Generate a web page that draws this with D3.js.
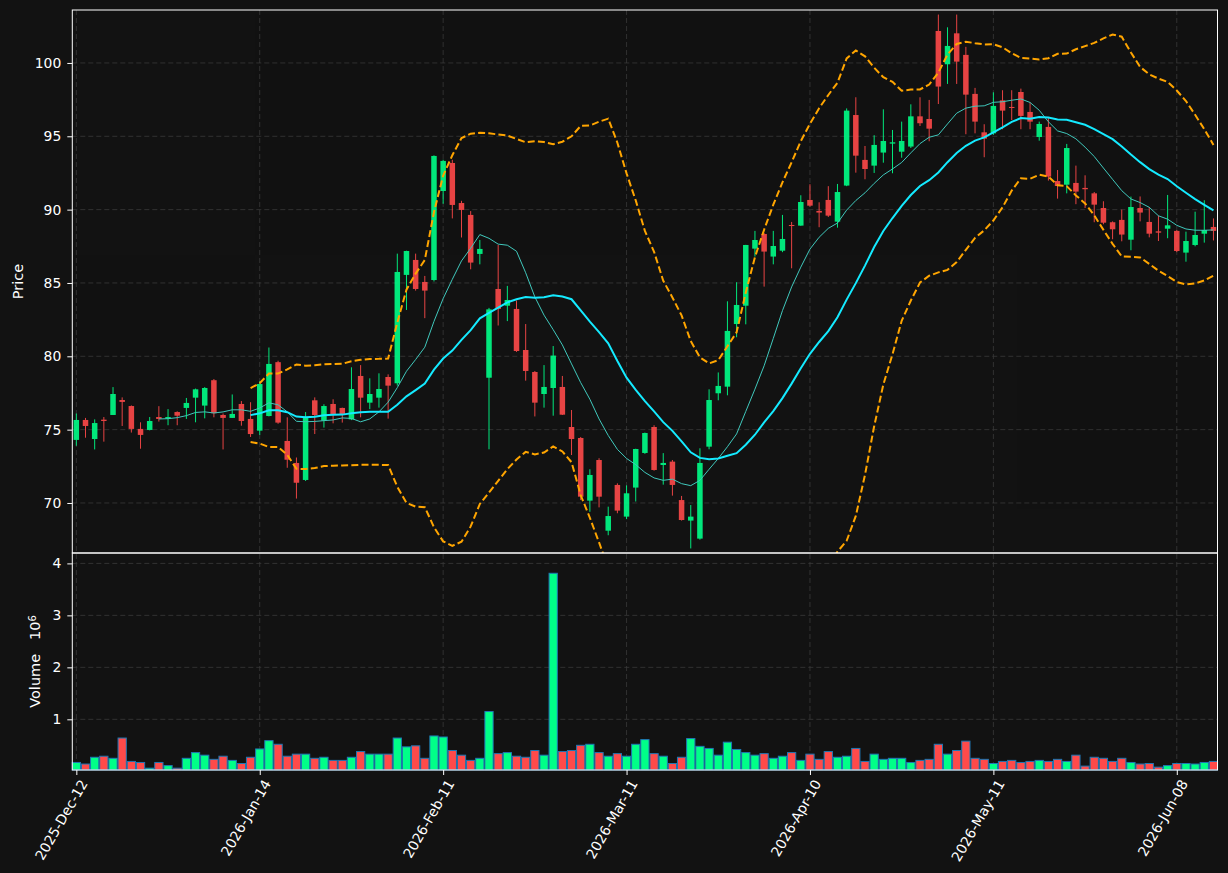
<!DOCTYPE html>
<html lang="en">
  <head>
    <meta charset="UTF-8" />
    <title>Price and Volume</title>
    <style>
      body { margin: 0; background: #121212; }
      text { font-family: "DejaVu Sans", sans-serif; }
    </style>
  </head>

  <body>
    <div id="chart"></div>

    <script src="https://cdn.jsdelivr.net/npm/d3@7"></script>
    <script>

      // tick labels on the date axis (one every 20 sessions)
      var tickIndex = [0, 20, 40, 60, 80, 100, 120];
      var tickLabels = ["2025-Dec-12", "2026-Jan-14", "2026-Feb-11", "2026-Mar-11",
                        "2026-Apr-10", "2026-May-11", "2026-Jun-08"];

      var opens = [74.30, 75.66, 74.36, 75.68, 76.00, 77.02, 76.61, 75.05, 74.98, 75.86,
                   75.75, 76.20, 76.48, 77.18, 76.64, 78.37, 76.00, 75.80, 76.75, 75.73,
                   74.93, 75.93, 79.60, 74.23, 72.73, 71.57, 77.00, 75.61, 76.75, 76.48,
                   75.70, 78.66, 76.84, 77.18, 78.59, 78.16, 85.55, 86.57, 85.07, 85.20,
                   91.27, 93.18, 90.45, 89.64, 86.98, 78.54, 84.59, 83.45, 83.23, 80.43,
                   78.93, 77.43, 77.84, 77.91, 75.18, 74.43, 70.16, 72.93, 68.11, 71.23,
                   69.07, 71.05, 73.41, 75.18, 72.59, 72.82, 70.20, 68.80, 67.57, 73.84,
                   77.48, 77.93, 82.20, 83.45, 87.34, 88.34, 86.80, 87.20, 88.95, 88.91,
                   90.66, 89.91, 90.66, 89.18, 91.64, 96.45, 93.39, 93.00, 93.89, 94.50,
                   93.95, 94.30, 96.36, 96.18, 102.18, 99.91, 102.02, 100.55, 97.89, 95.27,
                   95.20, 97.45, 97.00, 98.02, 96.66, 94.95, 95.64, 91.95, 91.70, 91.82,
                   91.48, 91.11, 90.11, 89.14, 89.30, 87.95, 90.11, 89.16, 88.52, 88.70,
                   88.55, 87.07, 87.59, 88.36, 88.82];
      var highs = [76.10, 75.80, 75.70, 75.86, 77.90, 77.20, 76.65, 75.50, 75.86, 76.60,
                   76.40, 76.25, 77.16, 77.80, 77.90, 78.45, 76.10, 77.40, 76.95, 76.87,
                   78.30, 80.60, 79.70, 75.84, 73.10, 76.20, 77.20, 76.73, 77.07, 76.50,
                   79.25, 79.40, 78.50, 78.84, 78.77, 87.00, 87.20, 87.00, 85.48, 93.70,
                   93.40, 93.40, 90.60, 89.90, 87.93, 83.30, 87.60, 84.80, 83.80, 82.20,
                   79.00, 79.40, 80.70, 78.66, 76.34, 74.50, 72.30, 73.05, 69.75, 71.34,
                   71.20, 73.70, 74.80, 75.30, 73.40, 72.93, 70.48, 69.86, 73.73, 77.75,
                   78.90, 83.75, 85.05, 87.60, 88.55, 88.40, 88.55, 89.64, 89.16, 90.98,
                   91.73, 90.50, 91.60, 91.75, 96.90, 97.66, 94.34, 95.07, 96.84, 95.43,
                   96.00, 97.18, 97.66, 97.48, 103.30, 102.43, 103.30, 101.10, 98.30, 95.82,
                   98.00, 98.14, 98.14, 98.25, 97.30, 96.00, 96.30, 92.70, 94.48, 93.00,
                   92.34, 91.20, 90.57, 89.20, 90.00, 90.89, 90.90, 90.18, 89.60, 91.00,
                   88.60, 88.50, 89.86, 90.64, 89.40];
      var lows = [73.90, 74.45, 73.65, 74.18, 76.00, 75.25, 74.80, 73.70, 74.95, 75.55,
                  75.30, 75.30, 75.73, 75.50, 75.77, 75.84, 73.65, 75.80, 75.27, 74.50,
                  74.64, 75.90, 75.40, 72.40, 70.30, 71.50, 74.70, 75.14, 75.43, 75.48,
                  75.65, 75.84, 76.40, 76.50, 75.75, 78.00, 83.16, 84.48, 82.60, 85.10,
                  90.40, 89.40, 88.10, 85.93, 86.27, 73.66, 82.10, 82.40, 80.30, 78.34,
                  75.90, 76.50, 75.95, 76.00, 73.27, 70.20, 69.40, 69.70, 67.80, 69.30,
                  68.90, 70.10, 73.35, 72.20, 71.25, 70.50, 68.80, 66.90, 67.50, 73.66,
                  77.00, 77.34, 81.30, 82.18, 86.80, 84.75, 86.27, 87.10, 86.00, 88.90,
                  90.20, 88.80, 89.50, 88.77, 91.60, 92.52, 92.07, 92.50, 93.20, 92.48,
                  93.54, 94.20, 95.70, 94.66, 97.20, 98.57, 98.57, 95.14, 95.20, 93.57,
                  95.10, 95.48, 96.11, 95.48, 95.48, 94.70, 91.98, 90.75, 91.11, 90.37,
                  90.11, 89.14, 89.00, 87.98, 87.84, 87.23, 89.20, 88.11, 87.86, 88.05,
                  87.10, 86.45, 87.50, 87.75, 87.90];
      var closes = [75.66, 75.25, 75.45, 75.59, 77.43, 76.89, 75.05, 74.64, 75.59, 75.73,
                    75.86, 75.95, 76.82, 77.75, 77.84, 76.12, 75.80, 76.07, 75.59, 74.70,
                    78.11, 79.48, 75.48, 72.95, 71.38, 75.84, 76.00, 76.61, 76.07, 76.07,
                    77.77, 77.18, 77.43, 77.77, 78.00, 85.75, 87.18, 84.59, 84.48, 93.66,
                    93.32, 90.32, 89.98, 86.39, 87.32, 83.20, 83.23, 83.84, 80.36, 79.00,
                    76.84, 77.91, 80.05, 76.02, 74.36, 70.43, 71.91, 70.43, 69.11, 69.48,
                    70.66, 73.68, 74.77, 72.25, 72.73, 71.23, 68.84, 69.07, 72.73, 77.02,
                    77.98, 81.73, 83.50, 87.59, 87.93, 87.14, 87.52, 88.00, 88.89, 90.52,
                    90.27, 89.80, 89.59, 91.20, 96.75, 93.68, 92.77, 94.41, 94.68, 94.59,
                    94.68, 96.36, 95.89, 95.52, 98.39, 101.16, 100.09, 97.84, 96.00, 94.84,
                    97.07, 96.75, 96.93, 96.39, 96.00, 95.84, 92.25, 91.61, 94.20, 91.23,
                    91.39, 90.34, 89.11, 88.66, 88.30, 90.18, 89.80, 88.36, 88.43, 88.93,
                    87.18, 87.86, 88.27, 88.61, 88.55];
      // volume in millions
      var volumes = [0.17, 0.14, 0.27, 0.29, 0.25, 0.64, 0.19, 0.17, 0.06, 0.17,
                     0.11, 0.06, 0.25, 0.36, 0.31, 0.23, 0.29, 0.21, 0.15, 0.27,
                     0.43, 0.59, 0.52, 0.29, 0.33, 0.33, 0.25, 0.27, 0.21, 0.21,
                     0.27, 0.38, 0.33, 0.33, 0.33, 0.64, 0.47, 0.49, 0.25, 0.68,
                     0.66, 0.40, 0.31, 0.21, 0.25, 1.15, 0.34, 0.36, 0.29, 0.27,
                     0.40, 0.31, 3.81, 0.38, 0.40, 0.50, 0.52, 0.36, 0.29, 0.34,
                     0.29, 0.52, 0.61, 0.34, 0.29, 0.15, 0.27, 0.63, 0.48, 0.44,
                     0.31, 0.56, 0.42, 0.36, 0.31, 0.34, 0.25, 0.29, 0.36, 0.21,
                     0.33, 0.23, 0.38, 0.27, 0.29, 0.44, 0.19, 0.33, 0.23, 0.25,
                     0.25, 0.17, 0.21, 0.23, 0.52, 0.33, 0.40, 0.58, 0.25, 0.23,
                     0.15, 0.19, 0.21, 0.17, 0.19, 0.21, 0.19, 0.23, 0.19, 0.31,
                     0.10, 0.27, 0.25, 0.19, 0.25, 0.17, 0.14, 0.15, 0.08, 0.11,
                     0.15, 0.15, 0.14, 0.17, 0.19];

      var priceTicks = [70, 75, 80, 85, 90, 95, 100];
      var volumeTicks = [1, 2, 3, 4];

      var upColor = "#00ff88",
          downColor = "#ff4a4a";

      var W = 1228, H = 873;
      var left = 72.3, right = 1217.5;
      var priceTop = 10, priceBottom = 553, volBottom = 770;

      var n = closes.length;
      var data = d3.range(n).map(function(i) {
        return { i: i, o: opens[i], h: highs[i], l: lows[i], c: closes[i], v: volumes[i] };
      });

      // indicator lines of the chart: 10 and 20 period moving average of the close,
      // and a 20 period band of +/- 2 standard deviations
      function rolling(arr, len, fn) {
        return arr.map(function(d, i) {
          if (i < len - 1) return null;
          return fn(arr.slice(i - len + 1, i + 1));
        });
      }
      var ma10 = rolling(closes, 10, d3.mean);
      var ma20 = rolling(closes, 20, d3.mean);
      var sd20 = rolling(closes, 20, d3.deviation);
      var upper = ma20.map(function(m, i) { return m === null ? null : m + 2 * sd20[i]; });
      var lower = ma20.map(function(m, i) { return m === null ? null : m - 2 * sd20[i]; });

      var svg = d3.select("#chart").append("svg")
                  .attr("width", W)
                  .attr("height", H);
      svg.append("rect")
         .attr("width", W)
         .attr("height", H)
         .attr("fill", "#121212");

      var xScale = d3.scaleLinear()
                     .domain([-0.44, n - 1 + 0.44])
                     .range([left, right]);
      var yScale = d3.scaleLinear()
                     .domain([66.59, 103.61])
                     .range([priceBottom, priceTop]);
      var vScale = d3.scaleLinear()
                     .domain([0.025, 4.2])
                     .range([volBottom, priceBottom]);

      var step = xScale(1) - xScale(0);

      svg.append("clipPath")
         .attr("id", "priceClip")
         .append("rect")
         .attr("x", left)
         .attr("y", priceTop)
         .attr("width", right - left)
         .attr("height", priceBottom - priceTop);

      // grid
      var grid = svg.append("g")
                    .attr("stroke", "#3a3a3a")
                    .attr("stroke-width", 0.8)
                    .attr("stroke-dasharray", "5,3");
      grid.selectAll(".vgrid")
          .data(tickIndex)
          .enter()
          .append("line")
          .attr("x1", function(d) { return xScale(d); })
          .attr("x2", function(d) { return xScale(d); })
          .attr("y1", priceTop)
          .attr("y2", volBottom);
      grid.selectAll(".pgrid")
          .data(priceTicks)
          .enter()
          .append("line")
          .attr("x1", left)
          .attr("x2", right)
          .attr("y1", function(d) { return yScale(d); })
          .attr("y2", function(d) { return yScale(d); });
      grid.selectAll(".vgrid2")
          .data(volumeTicks)
          .enter()
          .append("line")
          .attr("x1", left)
          .attr("x2", right)
          .attr("y1", function(d) { return vScale(d); })
          .attr("y2", function(d) { return vScale(d); });

      // candles
      var candles = svg.append("g")
                       .attr("clip-path", "url(#priceClip)")
                       .attr("opacity", 0.9);
      candles.selectAll(".wick")
             .data(data)
             .enter()
             .append("line")
             .attr("x1", function(d) { return xScale(d.i); })
             .attr("x2", function(d) { return xScale(d.i); })
             .attr("y1", function(d) { return yScale(d.h); })
             .attr("y2", function(d) { return yScale(d.l); })
             .attr("stroke", function(d) { return d.c >= d.o ? upColor : downColor; })
             .attr("stroke-width", 1);
      candles.selectAll(".body")
             .data(data)
             .enter()
             .append("rect")
             .attr("x", function(d) { return xScale(d.i) - step * 0.3; })
             .attr("width", step * 0.6)
             .attr("y", function(d) { return yScale(Math.max(d.o, d.c)); })
             .attr("height", function(d) {
               return Math.max(1, yScale(Math.min(d.o, d.c)) - yScale(Math.max(d.o, d.c)));
             })
             .attr("fill", function(d) { return d.c >= d.o ? upColor : downColor; });

      // indicator lines
      function lineOf(arr) {
        return d3.line()
                 .defined(function(d) { return d !== null; })
                 .x(function(d, i) { return xScale(i); })
                 .y(function(d) { return yScale(d); })(arr);
      }
      var lines = svg.append("g")
                     .attr("clip-path", "url(#priceClip)")
                     .attr("fill", "none");
      lines.append("path")
           .attr("d", lineOf(ma10))
           .attr("stroke", "#40c8bc")
           .attr("stroke-width", 1);
      lines.append("path")
           .attr("d", lineOf(ma20))
           .attr("stroke", "#14eaff")
           .attr("stroke-width", 2);
      [upper, lower].forEach(function(band) {
        lines.append("path")
             .attr("d", lineOf(band))
             .attr("stroke", "#ffa500")
             .attr("stroke-width", 2)
             .attr("stroke-dasharray", "7,3.2");
      });

      // volume
      svg.append("g")
         .selectAll("rect")
         .data(data)
         .enter()
         .append("rect")
         .attr("x", function(d) { return xScale(d.i) - step * 0.45; })
         .attr("width", step * 0.9)
         .attr("y", function(d) { return vScale(d.v); })
         .attr("height", function(d) { return volBottom - vScale(d.v); })
         .attr("fill", function(d) { return d.c >= d.o ? upColor : downColor; })
         .attr("stroke", "#1f77b4")
         .attr("stroke-width", 1);

      // axes
      var yAxis = d3.axisLeft(yScale)
                    .tickValues(priceTicks)
                    .tickSize(5)
                    .tickPadding(6);
      var vAxis = d3.axisLeft(vScale)
                    .tickValues(volumeTicks)
                    .tickFormat(d3.format("d"))
                    .tickSize(5)
                    .tickPadding(6);
      var xAxis = d3.axisBottom(xScale)
                    .tickValues(tickIndex)
                    .tickFormat(function(d, i) { return tickLabels[i]; })
                    .tickSize(5)
                    .tickPadding(4);

      var gy = svg.append("g")
                  .attr("transform", "translate(" + left + ",0)")
                  .call(yAxis);
      var gv = svg.append("g")
                  .attr("transform", "translate(" + left + ",0)")
                  .call(vAxis);
      var gx = svg.append("g")
                  .attr("transform", "translate(0," + volBottom + ")")
                  .call(xAxis);

      [gy, gv, gx].forEach(function(g) {
        g.select(".domain").remove();
        g.selectAll(".tick line").attr("stroke", "#fff");
        g.selectAll(".tick text")
         .attr("fill", "#fff")
         .style("font-size", "13.9px");
      });

      gx.selectAll(".tick text")
        .attr("text-anchor", "end")
        .attr("dy", "0.35em")
        .attr("transform", "translate(7,11)rotate(-60)")
        .attr("y", 0)
        .attr("x", 0);

      // frames
      svg.append("rect")
         .attr("x", left)
         .attr("y", priceTop)
         .attr("width", right - left)
         .attr("height", priceBottom - priceTop)
         .attr("fill", "none")
         .attr("stroke", "#fff")
         .attr("stroke-width", 1);
      svg.append("rect")
         .attr("x", left)
         .attr("y", priceBottom)
         .attr("width", right - left)
         .attr("height", volBottom - priceBottom)
         .attr("fill", "none")
         .attr("stroke", "#fff")
         .attr("stroke-width", 1);

      svg.append("text")
         .attr("text-anchor", "middle")
         .attr("transform", "translate(23," + (priceTop + priceBottom) / 2 + ")rotate(-90)")
         .attr("fill", "#fff")
         .style("font-size", "14.5px")
         .text("Price");

      var vlabel = svg.append("text")
                      .attr("text-anchor", "middle")
                      .attr("transform", "translate(40," + (priceBottom + volBottom) / 2 + ")rotate(-90)")
                      .attr("fill", "#fff")
                      .style("font-size", "14.5px");
      vlabel.append("tspan").text("Volume\u00a0\u00a0 10");
      vlabel.append("tspan")
            .attr("dy", "-0.45em")
            .style("font-size", "10px")
            .text("6");

    </script>
  </body>
</html>
